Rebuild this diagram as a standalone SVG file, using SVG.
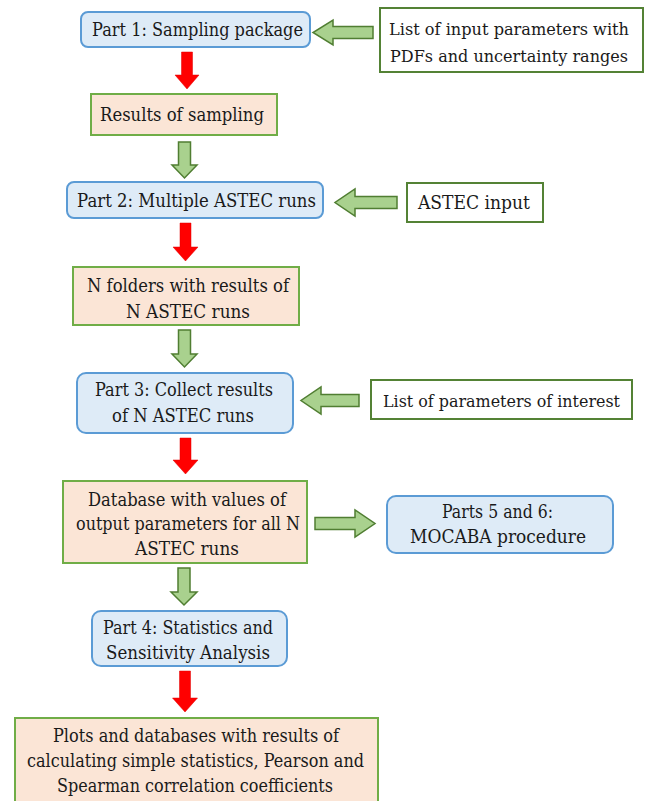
<svg xmlns="http://www.w3.org/2000/svg" width="646" height="801" viewBox="0 0 646 801">
<style>
.blue{fill:#deebf7;stroke:#5b9bd5;stroke-width:2}
.peach{fill:#fbe5d6;stroke:#70ad47;stroke-width:2}
.white{fill:#ffffff;stroke:#548235;stroke-width:2}
.ga{fill:#a9d18e;stroke:#507e32;stroke-width:1.5;stroke-linejoin:miter}
.ra{fill:#ff0000;stroke:#e00000;stroke-width:0.5}
.t{font-family:'DejaVu Serif','Liberation Serif',serif;font-size:18px;fill:#1a1a1a;text-anchor:middle}
.s{font-size:17px}
</style>
<rect width="646" height="801" fill="#ffffff"/>
<g id="connectors">
<path class="ra" d="M181.5,52 h11 v23 h6.5 l-12,14 l-12,-14 h6.5 z"/>
<path class="ga" d="M178.5,142 h12 v23 h6.5 l-12.5,13 l-12.5,-13 h6.5 z"/>
<path class="ra" d="M180,223 h11 v24 h7 l-12.5,14 l-12.5,-14 h7 z"/>
<path class="ga" d="M178.5,330 h12 v24 h6.5 l-12.5,13 l-12.5,-13 h6.5 z"/>
<path class="ra" d="M180,438 h11 v22 h7 l-12.5,14 l-12.5,-14 h7 z"/>
<path class="ga" d="M178,568 h12 v24 h7 l-13,13 l-13,-13 h7 z"/>
<path class="ra" d="M179.5,671 h11 v27 h7 l-12.5,14 l-12.5,-14 h7 z"/>
<path class="ga" d="M373,26.5 v12 h-40 v6.5 l-20,-12.5 l20,-12.5 v6.5 z"/>
<path class="ga" d="M397,196.5 v12 h-42 v7.5 l-20,-13.5 l20,-13.5 v7.5 z"/>
<path class="ga" d="M359,394.5 v12 h-38 v7.5 l-20,-13.5 l20,-13.5 v7.5 z"/>
<path class="ga" d="M315,517.5 v12 h40 v7.5 l20,-13.5 l-20,-13.5 v7.5 z"/>
</g>
<g id="part1">
<rect class="blue" x="81" y="12" width="229" height="35" rx="7"/>
<text class="t" x="197.5" y="36" textLength="211" lengthAdjust="spacingAndGlyphs">Part 1: Sampling package</text>
</g>
<g id="inputParams">
<rect class="white" x="380" y="8" width="263" height="64"/>
<text class="t s" x="509" y="35" textLength="240" lengthAdjust="spacingAndGlyphs">List of input parameters with</text>
<text class="t s" x="509" y="62" textLength="238" lengthAdjust="spacingAndGlyphs">PDFs and uncertainty ranges</text>
</g>
<g id="resultsSampling">
<rect class="peach" x="91" y="94" width="186" height="41"/>
<text class="t" x="182" y="121" textLength="164" lengthAdjust="spacingAndGlyphs">Results of sampling</text>
</g>
<g id="part2">
<rect class="blue" x="67" y="182" width="256" height="36" rx="7"/>
<text class="t" x="196.5" y="207" textLength="239" lengthAdjust="spacingAndGlyphs">Part 2: Multiple ASTEC runs</text>
</g>
<g id="astecInput">
<rect class="white" x="407" y="183" width="136" height="39"/>
<text class="t" x="474" y="209" textLength="112" lengthAdjust="spacingAndGlyphs">ASTEC input</text>
</g>
<g id="nFolders">
<rect class="peach" x="73" y="267" width="226" height="58"/>
<text class="t" x="188" y="292" textLength="202" lengthAdjust="spacingAndGlyphs">N folders with results of</text>
<text class="t" x="188" y="318" textLength="124" lengthAdjust="spacingAndGlyphs">N ASTEC runs</text>
</g>
<g id="part3">
<rect class="blue" x="77" y="373" width="216" height="60" rx="9"/>
<text class="t" x="184" y="396" textLength="178" lengthAdjust="spacingAndGlyphs">Part 3: Collect results</text>
<text class="t" x="183" y="422" textLength="142" lengthAdjust="spacingAndGlyphs">of N ASTEC runs</text>
</g>
<g id="paramsInterest">
<rect class="white" x="371" y="380" width="261" height="39"/>
<text class="t s" x="501.5" y="407" textLength="237" lengthAdjust="spacingAndGlyphs">List of parameters of interest</text>
</g>
<g id="database">
<rect class="peach" x="63" y="481" width="244" height="82"/>
<text class="t" x="187" y="506" textLength="198" lengthAdjust="spacingAndGlyphs">Database with values of</text>
<text class="t" x="188" y="530" textLength="224" lengthAdjust="spacingAndGlyphs">output parameters for all N</text>
<text class="t" x="187" y="555" textLength="104" lengthAdjust="spacingAndGlyphs">ASTEC runs</text>
</g>
<g id="mocaba">
<rect class="blue" x="387" y="496" width="226" height="57" rx="9"/>
<text class="t" x="497.5" y="518" textLength="111" lengthAdjust="spacingAndGlyphs">Parts 5 and 6:</text>
<text class="t" x="498" y="543" textLength="176" lengthAdjust="spacingAndGlyphs">MOCABA procedure</text>
</g>
<g id="part4">
<rect class="blue" x="92" y="611" width="195" height="55" rx="9"/>
<text class="t" x="188" y="634" textLength="170" lengthAdjust="spacingAndGlyphs">Part 4: Statistics and</text>
<text class="t" x="188" y="659" textLength="164" lengthAdjust="spacingAndGlyphs">Sensitivity Analysis</text>
</g>
<g id="plots">
<rect class="peach" x="15" y="718" width="363" height="92"/>
<text class="t" x="196" y="742" textLength="286" lengthAdjust="spacingAndGlyphs">Plots and databases with results of</text>
<text class="t" x="195.5" y="767" textLength="337" lengthAdjust="spacingAndGlyphs">calculating simple statistics, Pearson and</text>
<text class="t" x="195" y="792" textLength="276" lengthAdjust="spacingAndGlyphs">Spearman correlation coefficients</text>
</g>
</svg>
